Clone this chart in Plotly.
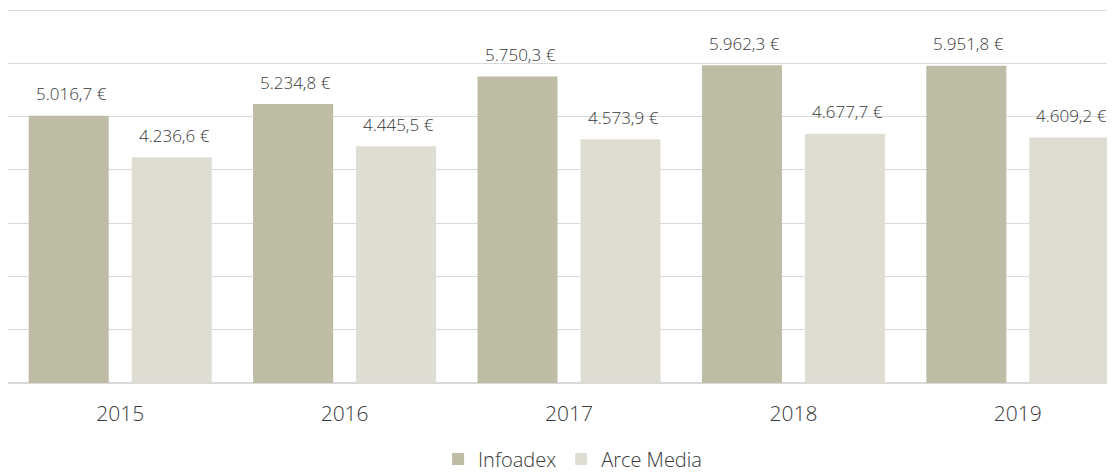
import plotly.graph_objects as go

years = ["2015", "2016", "2017", "2018", "2019"]
infoadex = [5016.7, 5234.8, 5750.3, 5962.3, 5951.8]
arce = [4236.6, 4445.5, 4573.9, 4677.7, 4609.2]
infoadex_labels = ["5.016,7 €", "5.234,8 €", "5.750,3 €", "5.962,3 €", "5.951,8 €"]
arce_labels = ["4.236,6 €", "4.445,5 €", "4.573,9 €", "4.677,7 €", "4.609,2 €"]

c1 = "#BFBCA5"
c2 = "#DFDDD2"
txt = "#383838"
font = "Open Sans"

fig = go.Figure()
fig.add_trace(go.Bar(name="Infoadex", x=list(range(len(years))), y=infoadex,
                     marker=dict(color=c1, line=dict(width=0))))
fig.add_trace(go.Bar(name="Arce Media", x=list(range(len(years))), y=arce,
                     marker=dict(color=c2, line=dict(width=0))))

annotations = []
for i in range(len(years)):
    annotations.append(dict(x=i, y=infoadex[i], xref="x", yref="y", text=infoadex_labels[i],
                            showarrow=False, xshift=-49, yshift=22, yanchor="middle",
                            font=dict(family=font, size=17, color=txt, weight=300)))
    annotations.append(dict(x=i, y=arce[i], xref="x", yref="y", text=arce_labels[i],
                            showarrow=False, xshift=54, yshift=22, yanchor="middle",
                            font=dict(family=font, size=17, color=txt, weight=300)))

fig.update_layout(
    width=1107, height=464,
    margin=dict(l=0, r=0, t=1, b=89, autoexpand=False),
    paper_bgcolor="white", plot_bgcolor="white",
    barmode="group", bargap=0.082, bargroupgap=0.223,
    annotations=annotations,
    showlegend=True,
    legend=dict(orientation="h", x=0.51, xanchor="center", y=-0.203, yanchor="middle",
                font=dict(family=font, size=20, color=txt, weight=300), itemwidth=30,
                traceorder="normal"),
    xaxis=dict(range=[-0.5, 4.433], tickvals=list(range(len(years))), ticktext=years,
               showgrid=False, zeroline=False, showline=False, ticks="",
               automargin=False, ticklabelstandoff=16,
               tickfont=dict(family=font, size=21, color=txt, weight=300)),
    yaxis=dict(range=[0, 7019], dtick=1000, showticklabels=False, showgrid=True,
               automargin=False,
               gridcolor="#D9D9D9", gridwidth=1, zeroline=True, zerolinecolor="#D9D9D9",
               zerolinewidth=1.5),
)

fig.write_html("out.html")
